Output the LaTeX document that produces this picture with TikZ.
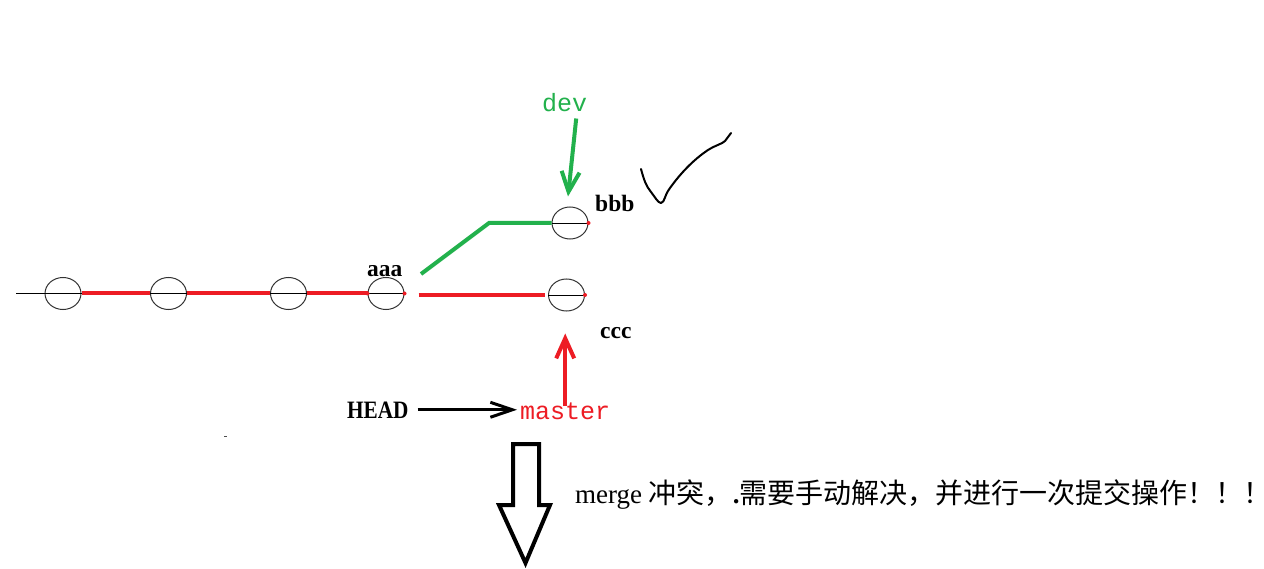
\documentclass[tikz,border=0pt]{standalone}
\usepackage{fontspec}
\setmainfont{Liberation Serif}
\newfontfamily\monof{Liberation Mono}
\newfontfamily\cjkf{Noto Sans CJK SC}
\usetikzlibrary{shapes.geometric,arrows.meta}
\definecolor{pred}{RGB}{237,28,36}
\definecolor{pgreen}{RGB}{34,177,76}
\begin{document}
\begin{tikzpicture}[x=1pt,y=-1pt,
  commit/.style={ellipse,draw=black!80,line width=1pt,minimum width=36pt,minimum height=32pt,inner sep=0pt},
  diam/.style={black,line width=0.9pt},
  redseg/.style={pred,line width=4pt},
  greenseg/.style={pgreen,line width=4pt},
  reddot/.style={fill=pred},
  lbl/.style={anchor=base west,inner sep=0pt,font=\bfseries\fontsize{23.5}{24}\selectfont},
  monolbl/.style={anchor=base west,inner sep=0pt,font=\monof\fontsize{25}{25}\selectfont},
  barb/.style={-{Straight Barb[length=20pt,width=18pt]},line width=#1},
]
\useasboundingbox[fill=white] (0,0) rectangle (1264,569);

% commits
\node[commit] (c1) at (63,293.5) {};
\node[commit] (c2) at (168.5,293.5) {};
\node[commit] (c3) at (288.5,293.5) {};
\node[commit] (c4) at (386,293.5) {};
\node[commit] (cb) at (570,223) {};
\node[commit] (cc) at (566.5,295) {};

% left tail
\coordinate (l0) at (16,293.5);
\draw[diam] (l0) -- (c1.east);

% red main line
\draw[redseg] (c1.east) -- (c2.west);
\draw[redseg] (c2.east) -- (c3.west);
\draw[redseg] (c3.east) -- (c4.west);
\draw[redseg,shorten <=14pt,shorten >=3pt] (c4.east |- cc.west) -- (cc.west);

% diameters
\foreach \c in {c2,c3,c4,cb,cc} {\draw[diam] (\c.west) -- (\c.east);}
\foreach \c in {c4,cb,cc} {\fill[reddot] (\c.east) circle (2pt);}
\fill[reddot] (c4.west) circle (2pt);

% green branch
\coordinate (gs) at (421,274);
\coordinate (gk) at (489,223);
\draw[greenseg,line join=miter] (gs) -- (gk) -- (cb.west);

% labels
\node[lbl] (aaa) at (367,277) {aaa};
\node[lbl] (bbb) at (595,212) {bbb};
\node[lbl] (ccc) at (600,338) {ccc};
\node[monolbl,text=pgreen] (dev) at (542,112) {dev};
\node[monolbl,text=pred] (master) at (520,419) {master};
\node[anchor=base west,inner sep=0pt,font=\bfseries\fontsize{25}{25}\selectfont,xscale=0.85] (head) at (347,418) {HEAD};

% arrows
\draw[barb=4pt,pgreen] ([xshift=11.5pt,yshift=-6pt]dev.south) -- ([xshift=-2pt,yshift=10pt]cb.north);
\draw[barb=4pt,pred,shorten <=-4pt,shorten >=22pt] (master.north) -- (master.north |- cc.south);
\draw[-{Straight Barb[length=22pt,width=15pt]},line width=3pt,black,shorten <=9pt,shorten >=3pt] (head.east) -- (head.east -| master.west);

% check mark
\draw[black,line width=2pt,line cap=round,line join=round]
  (641,169) .. controls (644,180) and (646,186) .. (651,192)
  .. controls (655,197) and (658,203) .. (661,203)
  .. controls (665,202) and (664,196) .. (670,188)
  .. controls (680,174) and (693,160) .. (708,150)
  .. controls (716,145) and (722,144) .. (725,141)
  -- (731,133);

% big outline arrow
\draw[black,line width=4pt,line join=miter,miter limit=10]
  (513,444) -- (539,444) -- (539,505) -- (550,505) -- (525.5,563) -- (499,505) -- (513,505) -- cycle;

% message
\node[anchor=base west,inner sep=0pt,font=\fontsize{27}{27}\selectfont] (msg) at (575,503)
  {merge {\cjkf\fontsize{28}{28}\selectfont 冲突，}{\bfseries .}{\cjkf\fontsize{28}{28}\selectfont 需要手动解决，并进行一次提交操作！！！}};

% stray mark
\fill[black!70] (224,435.5) rectangle (227,437);
\end{tikzpicture}
\end{document}
